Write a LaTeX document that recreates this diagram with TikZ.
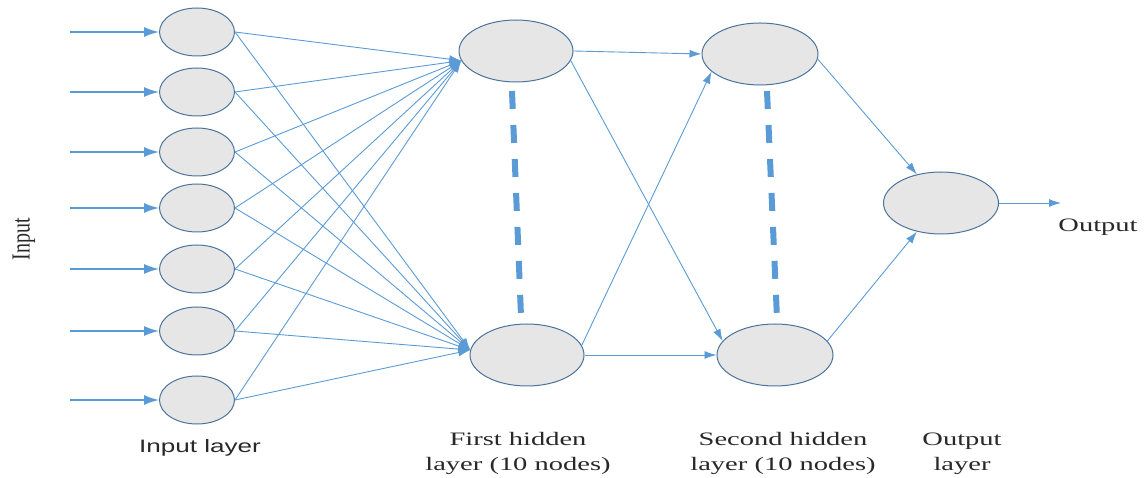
\documentclass[tikz,border=0pt]{standalone}
\usepackage{fontspec}
\setmainfont{Liberation Serif}
\newfontfamily\labsans[FakeStretch=1.45]{Liberation Sans}
\newfontfamily\labserif[FakeStretch=1.5]{Liberation Serif}
\usetikzlibrary{arrows.meta,shapes.geometric}

\definecolor{edgeblue}{RGB}{91,155,213}
\definecolor{rimblue}{RGB}{75,115,155}
\definecolor{nodegray}{RGB}{230,230,230}
\definecolor{textgray}{RGB}{40,40,40}

\begin{document}
\begin{tikzpicture}[x=1pt,y=-1pt,
  neuron/.style={ellipse, draw=rimblue, line width=1pt, fill=nodegray,
    inner sep=0pt, minimum width=#1},
  smallneuron/.style={neuron=75pt, minimum height=48pt},
  bigneuron/.style={neuron=114pt, minimum height=62pt},
  feed/.style={draw=edgeblue, line width=1.4pt, -{Latex[length=15pt,width=10pt]}},
  link/.style={draw=edgeblue, line width=0.9pt, -{Latex[length=12pt,width=8pt]}},
  ellipsis/.style={draw=edgeblue, line width=6pt, dash pattern=on 18pt off 16pt},
  caption/.style={font=\labserif\fontsize{19}{25}\selectfont, text=textgray, align=center, anchor=north}
]
\useasboundingbox (0,0) rectangle (1144,478);

% input layer
\foreach \k/\y in {1/32,2/92,3/152,4/208,5/269,6/331,7/400}{
  \node[smallneuron] (i\k) at (197,\y) {};
  \coordinate (x\k) at (70,\y);
  \draw[feed] (x\k) -- (i\k);
}

% hidden layers and output
\node[bigneuron] (h1) at (516,51) {};
\node[bigneuron] (h2) at (527,355) {};
\node[bigneuron, minimum width=116pt] (s1) at (760,54) {};
\node[bigneuron, minimum width=116pt] (s2) at (775,355) {};
\node[bigneuron, minimum width=115pt] (o) at (941,203) {};
\coordinate (y) at (1061,203);

% input layer to first hidden layer
\foreach \k in {1,...,7}{
  \draw[link] (i\k.east) -- (h1.190);
  \draw[link] (i\k.east) -- (h2.175);
}

% first hidden layer to second hidden layer
\draw[link] (h1.east) -- (s1.west);
\draw[link] (h1.-10) -- (s2.165);
\draw[link] (h2.10) -- (s1.200);
\draw[link] (h2.east) -- (s2.west);

% second hidden layer to output
\draw[link] (s1.-5) -- (o.130);
\draw[link] (s2.15) -- (o.230);
\draw[link] (o.east) -- (y);

% omitted neurons
\coordinate (d1a) at (512,91);
\coordinate (d1b) at (521,316);
\coordinate (d2a) at (767,91);
\coordinate (d2b) at (777,318);
\draw[ellipsis] (d1a) -- (d1b);
\draw[ellipsis] (d2a) -- (d2b);

% labels
\node[rotate=90, text=textgray, font=\fontsize{20}{24}\selectfont] (lin) at (24,239) {\scalebox{1}[1.3]{Input}};
\node[text=textgray, font=\labserif\fontsize{19}{24}\selectfont] (lout) at (1098,227) {Output};
\node[text=textgray, font=\labsans\fontsize{18}{24}\selectfont] (lil) at (200,448) {Input layer};
\node[caption] (lh1) at (518,429) {First hidden\\layer (10 nodes)};
\node[caption] (lh2) at (783,429) {Second hidden\\layer (10 nodes)};
\node[caption] (lol) at (962,429) {Output\\layer};
\end{tikzpicture}
\end{document}
